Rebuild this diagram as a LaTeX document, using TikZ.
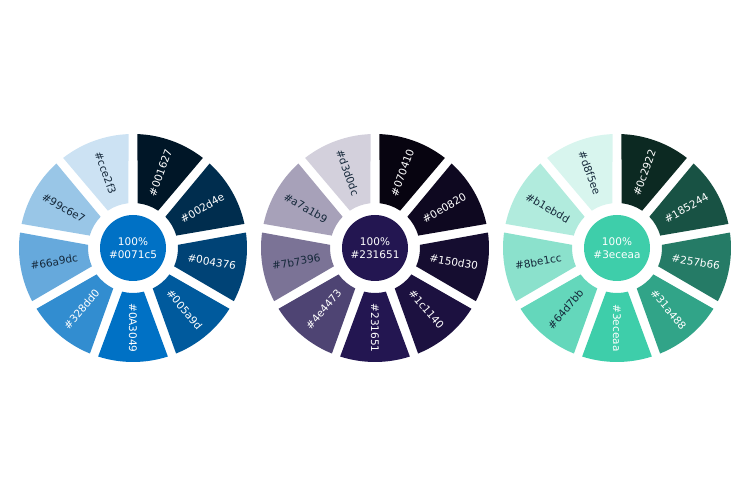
\documentclass[tikz,border=0pt]{standalone}
\usepackage{fontspec}
\setmainfont{DejaVu Sans}
\usetikzlibrary{calc}
\begin{document}
\begin{tikzpicture}[x=1pt,y=1pt,
  lbl/.style={font=\fontsize{10.5}{12}\selectfont,inner sep=0pt},
  hub/.style={circle,minimum size=66pt,inner sep=0pt,align=center,font=\fontsize{10.5}{13}\selectfont}]
\useasboundingbox (0,0) rectangle (750,500);
\definecolor{dk}{HTML}{15283A}
\newcommand{\mywheel}[4]{%
  \foreach \hx/\fc/\tc [count=\i from 0] in {#3} {
    \pgfmathsetmacro{\a}{70-40*\i}
    \definecolor{segc}{HTML}{\fc}
    \fill[segc] ($(#1,#2)+(\a-14:45pt)$) -- ($(#1,#2)+(\a-17.8:114pt)$)
       arc[start angle=\a-17.8,end angle=\a+17.8,radius=114pt]
       -- ($(#1,#2)+(\a+14:45pt)$)
       arc[start angle=\a+14,end angle=\a-14,radius=45pt] -- cycle;
    \pgfmathsetmacro{\rot}{ifthenelse(cos(\a)<-0.01,\a+180,\a)}
    \node[lbl,text=\tc,rotate=\rot] (l#4\i) at ($(#1,#2)+(\a:80pt)$) {\#\hx};
  }}
\mywheel{133}{252}{001627/001627/white,002d4e/002d4e/white,004376/004376/white,005a9d/005a9d/white,0A3049/0071c5/white,328dd0/328dd0/white,66a9dc/66a9dc/dk,99c6e7/99c6e7/dk,cce2f3/cce2f3/dk}{a}
\mywheel{375}{252}{070410/070410/white,0e0820/0e0820/white,150d30/150d30/white,1c1140/1c1140/white,231651/231651/white,4e4473/4e4473/white,7b7396/7b7396/dk,a7a1b9/a7a1b9/dk,d3d0dc/d3d0dc/dk}{b}
\mywheel{617}{252}{0c2922/0c2922/white,185244/185244/white,257b66/257b66/white,31a488/31a488/white,3eceaa/3eceaa/white,64d7bb/64d7bb/dk,8be1cc/8be1cc/dk,b1ebdd/b1ebdd/dk,d8f5ee/d8f5ee/dk}{c}
\definecolor{h1}{HTML}{0071c5}\definecolor{h2}{HTML}{231651}\definecolor{h3}{HTML}{3eceaa}
\node[hub,fill=h1,text=white] (c1) at (133,252) {100\%\\\#0071c5};
\node[hub,fill=h2,text=white] (c2) at (375,252) {100\%\\\#231651};
\node[hub,fill=h3,text=white] (c3) at (617,252) {100\%\\\#3eceaa};
\end{tikzpicture}
\end{document}
